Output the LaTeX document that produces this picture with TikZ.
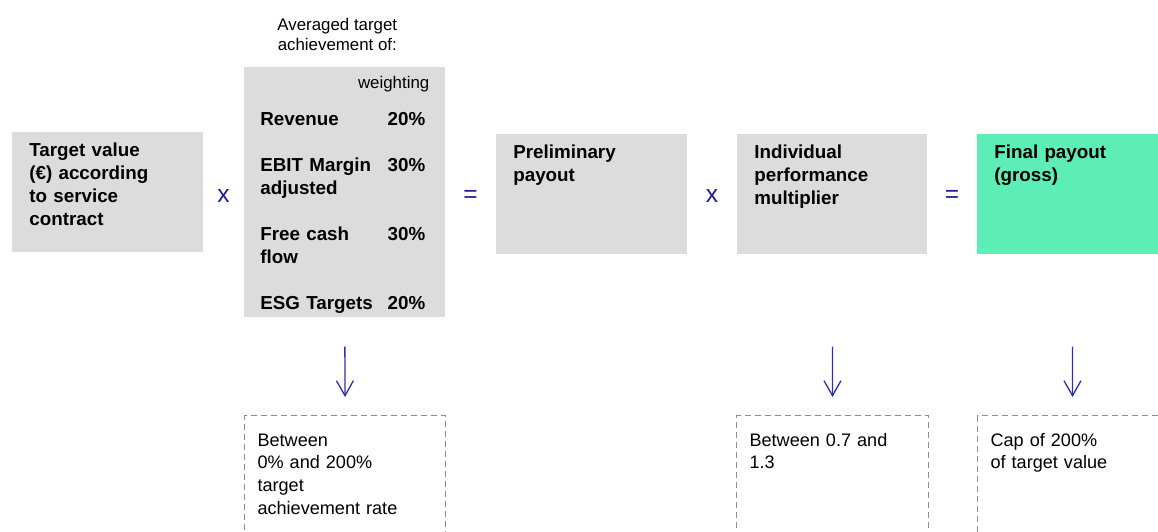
\documentclass[tikz,border=0pt]{standalone}
\usepackage{fontspec}
\setmainfont{Liberation Sans}
\usepackage{tikz}
\usetikzlibrary{positioning, arrows.meta}

\definecolor{boxgray}{HTML}{DCDCDC}
\definecolor{payoutgreen}{HTML}{5CEEB6}
\definecolor{opblue}{HTML}{1C1C9A}
\definecolor{arrowblue}{HTML}{2E2EB0}
\definecolor{notegray}{HTML}{8C8C8C}

\newcommand{\stagefont}{\fontsize{10.7}{13.1}\selectfont\bfseries}
\newcommand{\notefont}{\fontsize{10.3}{12.9}\selectfont}
\newcommand{\smallfont}{\fontsize{9.6}{11.4}\selectfont\mdseries}
\newcommand{\weight}[1]{\hfill#1\%\kern0.08cm}

\tikzset{
    stage/.style={fill=boxgray, anchor=north west, align=left, text width=3.14cm,
        inner xsep=0.34cm, inner ysep=0.21cm, text height=0.27cm, text depth=1.71cm,
        font=\stagefont},
    result/.style={stage, fill=payoutgreen},
    note/.style={draw=notegray, line width=0.6pt, dash pattern=on 0.12cm off 0.08cm,
        anchor=north west, align=left, inner xsep=0.26cm, inner ysep=0.34cm,
        text height=0.27cm, text depth=2.25cm, font=\notefont},
    op/.style={text=opblue, anchor=base, inner sep=0, font=\fontsize{14}{16}\selectfont},
    flow/.style={draw=arrowblue, line width=0.75pt,
        -{Straight Barb[length=0.3cm, width=0.34cm]}, shorten >=0.36cm},
}

\begin{document}
\begin{tikzpicture}[x=0.02cm, y=-0.02cm]
    \useasboundingbox (0,0) rectangle (1158,531);
    \clip (0,0) rectangle (1158,531);

    % the chain of factors
    \node[stage] (target) at (12,132) {Target value\\(€) according\\to service\\contract};
    \node[stage, text width=3.38cm, inner xsep=0.32cm, inner ysep=0.15cm, text depth=4.43cm] (avg) at (244,67)
        {{\smallfont\hfill weighting}\\[0.28cm]
         Revenue\weight{20}\\[0.46cm]
         EBIT Margin\weight{30}\\
         adjusted\\[0.46cm]
         Free cash\weight{30}\\
         flow\\[0.46cm]
         ESG Targets\weight{20}};
    \node[stage, text width=3.14cm] (prelim) at (496,134) {Preliminary\\payout};
    \node[stage, text width=3.12cm] (indiv) at (737,134) {Individual\\performance\\multiplier};
    \node[result, text width=3.12cm] (final) at (977,134) {Final payout\\(gross)};

    \node[inner sep=0, align=center, font=\smallfont, above=0.32cm of avg, xshift=-0.15cm] (avgcaption)
        {Averaged target\\achievement of:};

    \node[op] (times1) at (223.5,202) {x};
    \node[op] (equals1) at (470.5,202) {=};
    \node[op] (times2) at (712,202) {x};
    \node[op] (equals2) at (952,202) {=};

    % bounds
    \node[note, text width=3.5cm] (avgnote) at (244,415) {Between\\0\% and 200\%\\target\\achievement rate};
    \node[note, text width=3.32cm] (indivnote) at (736,415) {Between 0.7 and\\1.3};
    \node[note, text width=3.28cm] (finalnote) at (977,415) {Cap of 200\%\\of target value};

    \draw[flow, shorten <=0.58cm] (avg.south) -- (avgnote.north);
    \draw[flow, shorten <=1.84cm] (indiv.south) -- (indivnote.north);
    \draw[flow, shorten <=1.84cm] (final.south) -- (finalnote.north);
\end{tikzpicture}
\end{document}
